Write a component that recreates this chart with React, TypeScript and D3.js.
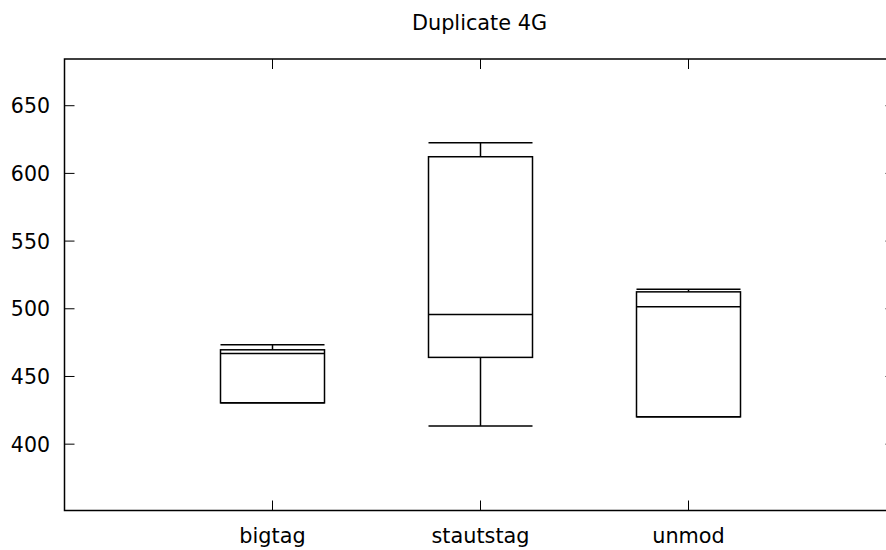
import React from "react";
import * as d3 from "d3";

const categories = ["bigtag", "stautstag", "unmod"];
const whiskerLow = [430.5, 413.5, 420.2];
const q1 = [430.5, 464.1, 420.2];
const median = [467.0, 495.8, 501.5];
const q3 = [469.7, 612.3, 512.5];
const whiskerHigh = [473.4, 622.6, 514.5];
const yTicks = [400, 450, 500, 550, 600, 650];
const title = "Duplicate 4G";

const W = 886;
const H = 550;
const left = 64.5;
const right = 896.5;
const top = 59;
const bottom = 510.5;

export default function App() {
  const x = d3.scaleLinear().domain([0, 4]).range([left, right]);
  const y = d3.scaleLinear().domain([351, 684.5]).range([bottom, top]);
  const hw = 0.25;
  const font = "'DejaVu Sans', sans-serif";
  const sw = 1.5;
  return (
    <svg width={W} height={H} style={{ position: "absolute", left: 0, top: 0, background: "#fff" }}>
      <rect x={0} y={0} width={W} height={H} fill="#fff" />
      <text x={479.5} y={29.5} textAnchor="middle" fontFamily={font} fontSize={20.8} fill="#000">{title}</text>
      {yTicks.map((t) => (
        <g key={t}>
          <line x1={left} x2={left + 10} y1={y(t)} y2={y(t)} stroke="#000" strokeWidth={1} />
          <line x1={right - 11} x2={right} y1={y(t)} y2={y(t)} stroke="#000" strokeWidth={1} />
          <text x={50} y={y(t) + 7.5} textAnchor="end" fontFamily={font} fontSize={20.5} fill="#000">{t}</text>
        </g>
      ))}
      {categories.map((c, i) => (
        <g key={c}>
          <line x1={x(i + 1)} x2={x(i + 1)} y1={bottom} y2={bottom - 10} stroke="#000" strokeWidth={1} />
          <line x1={x(i + 1)} x2={x(i + 1)} y1={top} y2={top + 10} stroke="#000" strokeWidth={1} />
          <text x={x(i + 1)} y={543} textAnchor="middle" fontFamily={font} fontSize={20.8} fill="#000">{c}</text>
        </g>
      ))}
      {categories.map((c, i) => {
        const cx = x(i + 1);
        const x0 = x(i + 1 - hw);
        const x1 = x(i + 1 + hw);
        return (
          <g key={"b" + c} stroke="#000" strokeWidth={sw} fill="none">
            <line x1={cx} x2={cx} y1={y(q3[i])} y2={y(whiskerHigh[i])} />
            <line x1={cx} x2={cx} y1={y(q1[i])} y2={y(whiskerLow[i])} />
            <line x1={x0} x2={x1} y1={y(whiskerHigh[i])} y2={y(whiskerHigh[i])} />
            <line x1={x0} x2={x1} y1={y(whiskerLow[i])} y2={y(whiskerLow[i])} />
            <rect x={x0} y={y(q3[i])} width={x1 - x0} height={y(q1[i]) - y(q3[i])} />
            <line x1={x0} x2={x1} y1={y(median[i])} y2={y(median[i])} />
          </g>
        );
      })}
      <rect x={left} y={top} width={right - left} height={bottom - top} fill="none" stroke="#000" strokeWidth={1.5} />
    </svg>
  );
}
